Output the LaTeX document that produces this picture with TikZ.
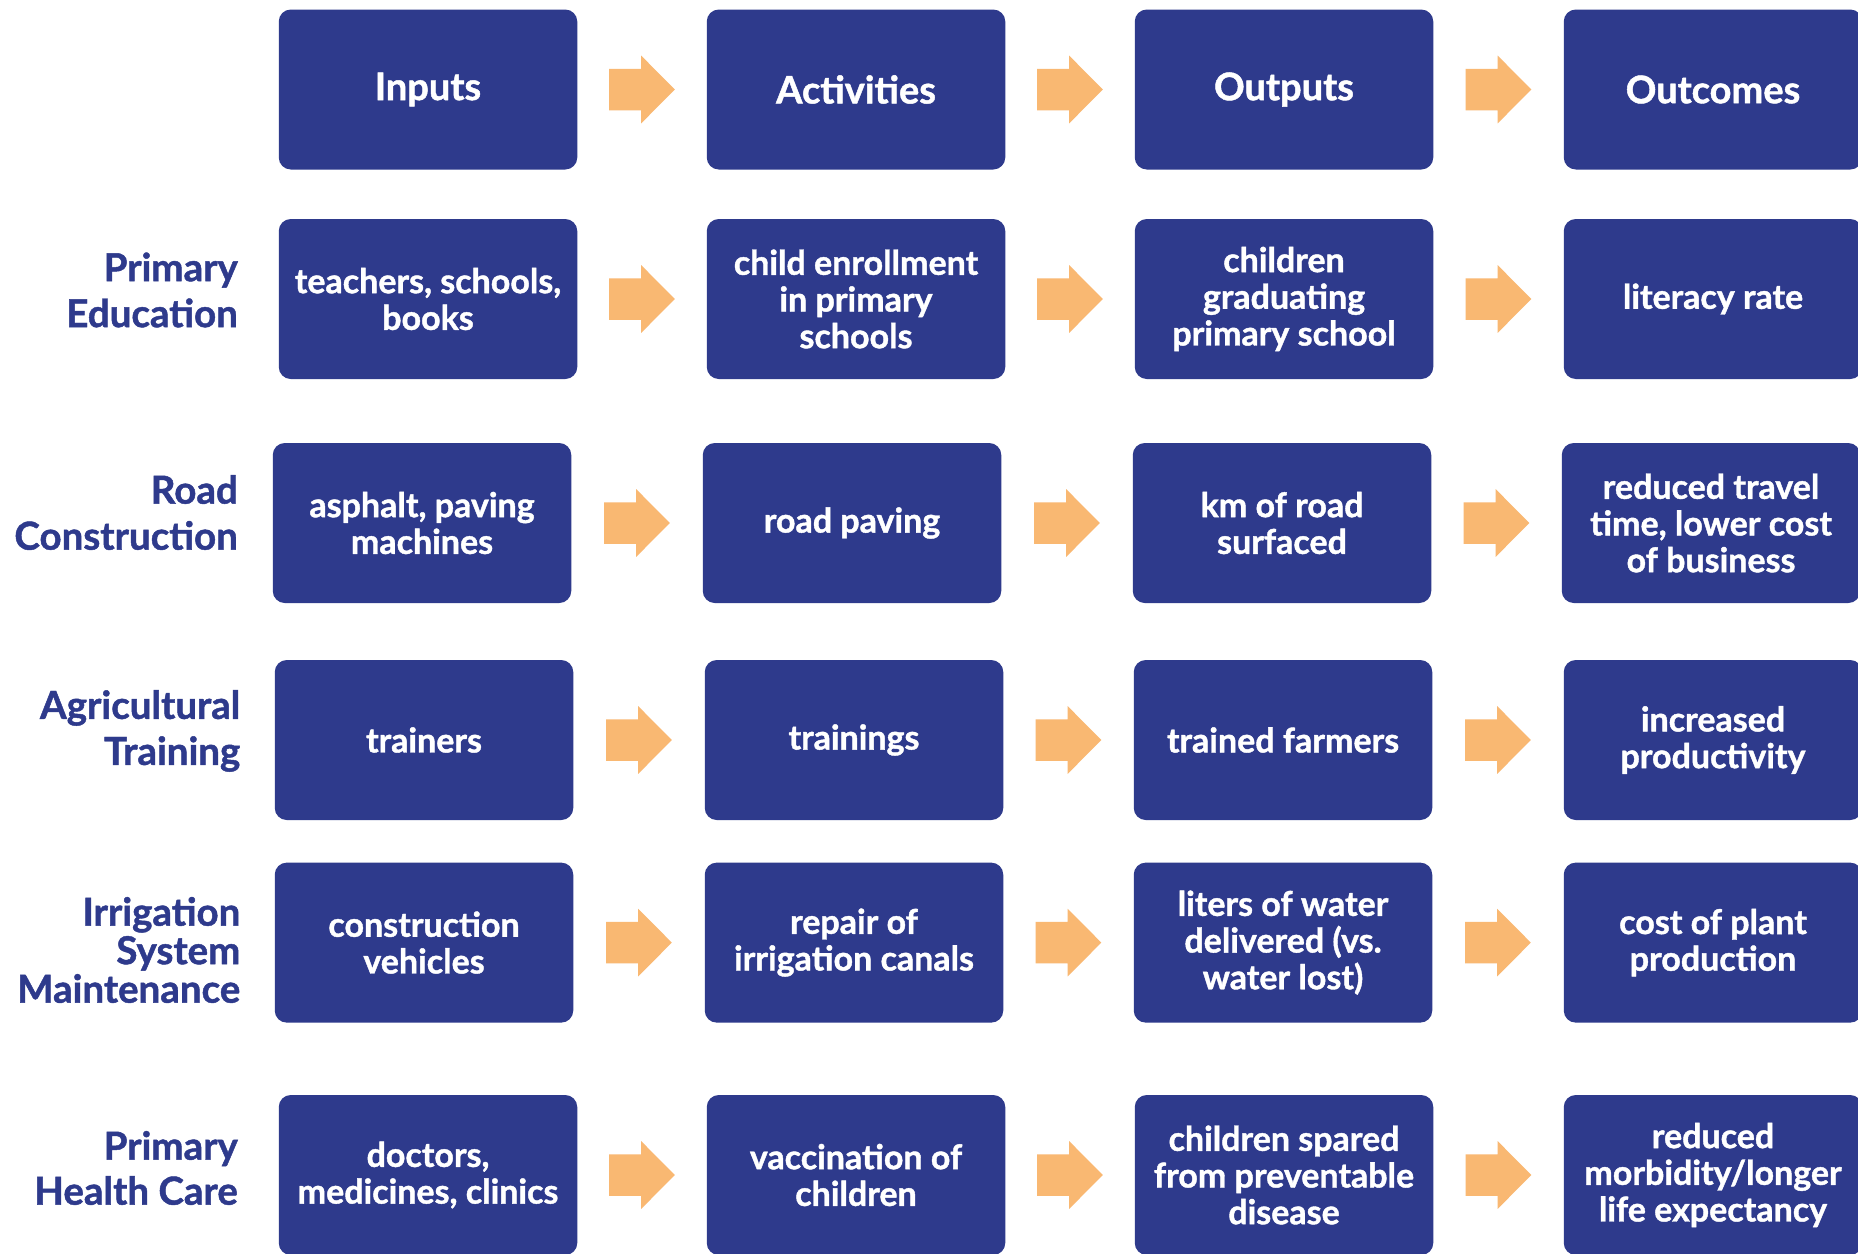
\documentclass[tikz,border=0pt]{standalone}
\usepackage{fontspec}
\setmainfont{Lato}[BoldFeatures={FakeBold=1.2}]
\usetikzlibrary{calc}
\definecolor{navy}{RGB}{46,58,140}
\definecolor{arrowc}{RGB}{249,184,114}
\newcommand\fatarrow[2]{\fill[arrowc] ($(#1.east)!0.5!(#2.west)$) ++(-32.8,-20.75) -- ++(32,0) -- ++(0,-13.1) -- ++(33.6,33.85) -- ++(-33.6,33.85) -- ++(0,-13.1) -- ++(-32,0) -- cycle;}
\begin{document}
\begin{tikzpicture}[x=1pt,y=-1pt,
  box/.style={fill=navy, rounded corners=12pt, minimum width=298.5pt, minimum height=160pt,
    text=white, align=center, inner sep=2pt, font=\fontsize{34}{36.7}\selectfont\bfseries},
  head/.style={box, font=\fontsize{38}{40}\selectfont\bfseries},
  rowlabel/.style={anchor=east, align=right, text=navy, inner sep=0pt,
    font=\fontsize{38.5}{46}\selectfont\bfseries}]
\clip (0,0) rectangle (1858,1253);
\fill[white] (0,0) rectangle (1858,1253);
% row 1
\node[head] (r1c1) at (428,89.5) {Inputs};
\node[head] (r1c2) at (856,89.5) {Activities};
\node[head] (r1c3) at (1284,89.5) {Outputs};
\node[head] (r1c4) at (1713,89.5) {Outcomes};
% row 2
\node[rowlabel] (l2) at (238,290) {Primary\\Education};
\node[box] (r2c1) at (428,299) {teachers, schools,\\books};
\node[box] (r2c2) at (856,299) {child enrollment\\in primary\\schools};
\node[box] (r2c3) at (1284,299) {children\\graduating\\primary school};
\node[box] (r2c4) at (1713,299) {literacy rate};
% row 3
\node[rowlabel] (l3) at (238,512.5) {Road\\Construction};
\node[box] (r3c1) at (422,523) {asphalt, paving\\machines};
\node[box] (r3c2) at (852,523) {road paving};
\node[box] (r3c3) at (1282,523) {km of road\\surfaced};
\node[box] (r3c4) at (1711,523) {reduced travel\\time, lower cost\\of business};
% row 4
\node[rowlabel] (l4) at (240.5,731) {Agricultural\\Training};
\node[box] (r4c1) at (424,740) {trainers};
\node[box] (r4c2) at (854,740) {trainings};
\node[box] (r4c3) at (1283,740) {trained farmers};
\node[box] (r4c4) at (1713,740) {increased\\productivity};
% row 5
\node[rowlabel, font=\fontsize{38.5}{38.5}\selectfont\bfseries] (l5) at (240.5,950) {Irrigation\\System\\Maintenance};
\node[box] (r5c1) at (424,942.6) {construction\\vehicles};
\node[box] (r5c2) at (854,942.6) {repair of\\irrigation canals};
\node[box] (r5c3) at (1283,942.6) {liters of water\\delivered (vs.\\water lost)};
\node[box] (r5c4) at (1713,942.6) {cost of plant\\production};
% row 6
\node[rowlabel, font=\fontsize{38.5}{45}\selectfont\bfseries] (l6) at (238,1168) {Primary\\Health Care};
\node[box] (r6c1) at (428,1175) {doctors,\\medicines, clinics};
\node[box] (r6c2) at (856,1175) {vaccination of\\children};
\node[box] (r6c3) at (1284,1175) {children spared\\from preventable\\disease};
\node[box] (r6c4) at (1713,1175) {reduced\\morbidity/longer\\life expectancy};
% arrows
\foreach \r in {1,...,6}{
  \fatarrow{r\r c1}{r\r c2}
  \fatarrow{r\r c2}{r\r c3}
  \fatarrow{r\r c3}{r\r c4}
}
\end{tikzpicture}
\end{document}
